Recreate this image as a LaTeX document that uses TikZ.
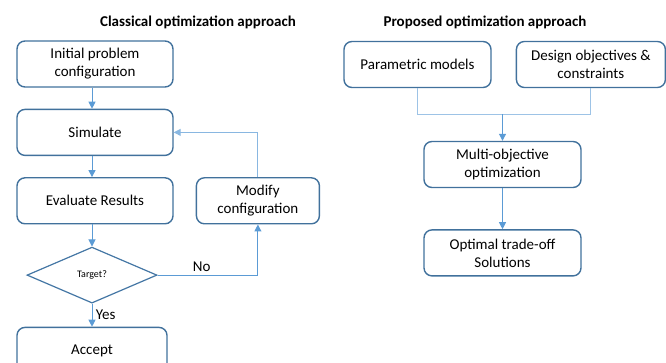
\documentclass[tikz,border=0pt]{standalone}
\usepackage{fontspec}
\setmainfont{Carlito}
\usetikzlibrary{arrows.meta,positioning,shapes.geometric}

\definecolor{boxblue}{HTML}{41719C}
\definecolor{arrowblue}{HTML}{5B9BD5}
\definecolor{lineblue}{HTML}{9DC3E6}

\begin{document}
\begin{tikzpicture}[->,>={Triangle[width=7pt,length=7pt]},x=1pt,y=-1pt,node distance=21pt,
  box/.style={draw=boxblue,line width=1.4pt,rounded corners=8pt,minimum height=46pt,
    align=center,inner sep=3pt,font=\fontsize{15}{18}\selectfont},
  decision/.style={diamond,draw=boxblue!85!arrowblue,line width=1.2pt,minimum width=130pt,
    minimum height=56pt,inner sep=0pt,font=\fontsize{10}{12}\selectfont},
  heading/.style={font=\fontsize{15}{18}\selectfont\bfseries},
  flow/.style={draw=arrowblue,line width=1pt},
  merge/.style={draw=lineblue,line width=1pt}]
  \clip (0,0) rectangle (666,363);

  % classical loop
  \node[heading] (titleA) at (198,22) {Classical optimization approach};
  \node[box,minimum width=156pt] (init) at (95,64) {Initial problem\\configuration};
  \node[box,minimum width=156pt] (sim) [below=of init] {Simulate};
  \node[box,minimum width=156pt] (eval) [below=of sim] {Evaluate Results};
  \node[decision] (target) [below=22pt of eval,xshift=-3pt] {Target?};
  \node[box,minimum width=150pt] (accept) [below=23pt of target] {Accept};
  \node[box,minimum width=123pt] (modify) [right=22pt of eval] {Modify\\configuration};

  \draw[flow] (init.south -| target) -- (sim.north -| target);
  \draw[flow] (sim.south -| target) -- (eval.north -| target);
  \draw[flow] (eval.south -| target) -- (target.north);
  \draw[flow] (target.south) -- node[right,font=\fontsize{15}{18}\selectfont] {Yes} (accept.north -| target);
  \draw[flow] (target.east) -| node[above,pos=0.22,font=\fontsize{15}{18}\selectfont] {No} (modify.south);
  \draw[flow,draw=lineblue!70!arrowblue] (modify.north) |- (sim.east);

  % proposed approach
  \node[heading] (titleB) at (485,22) {Proposed optimization approach};
  \node[box,minimum width=147pt] (param) at (417.5,64.5) {Parametric models};
  \node[box,minimum width=149pt] (design) [right=24pt of param] {Design objectives \&\\constraints};
  \node[box,minimum width=157pt] (multi) at (502.5,164.5) {Multi-objective\\optimization};
  \node[box,minimum width=157pt] (optimal) [below=41pt of multi] {Optimal trade-off\\Solutions};

  \coordinate[below=26pt of param.south] (join);
  \draw[merge,-] (param.south) -- (join) -| (design.south);
  \draw[flow] (join -| multi) -- (multi.north);
  \draw[flow] (multi.south) -- (optimal.north);
\end{tikzpicture}
\end{document}
